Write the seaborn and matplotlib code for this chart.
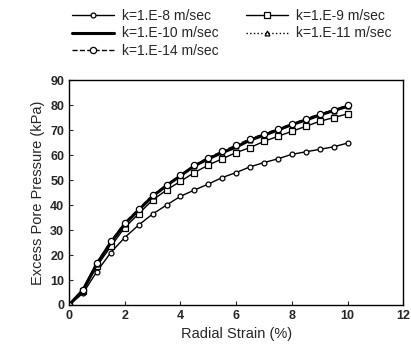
import matplotlib
matplotlib.use("Agg")
import matplotlib.pyplot as plt
import seaborn as sns
import pandas as pd

# Radial strain (%) and excess pore pressure (kPa)
strain = [0, 0.5, 1, 1.5, 2, 2.5, 3, 3.5, 4, 4.5, 5,
          5.5, 6, 6.5, 7, 7.5, 8, 8.5, 9, 9.5, 10]
k8 = [0, 4.7, 13.4, 21, 27, 32, 36.4, 40, 43.5, 46, 48.4,
      51, 53, 55.3, 57, 58.5, 60.3, 61.3, 62.3, 63.3, 64.8]
k9 = [0, 5.5, 15.5, 23.5, 31, 36.5, 42, 46, 49.5, 53, 56,
      58.5, 61, 63, 65.5, 67.5, 69.5, 71.5, 73.5, 75, 76.5]
k10 = [0, 6, 16.5, 25, 32.4, 38, 43.5, 47.8, 51.7, 55.7, 58.5,
       61, 63.2, 66, 68, 70, 72.2, 74, 76, 77.8, 79.5]
k11 = [0, 6, 16.5, 25.5, 32.5, 38.5, 43.5, 48, 52, 55.5, 58.5,
       61, 63.5, 66, 68, 70, 72, 74, 76, 77.5, 79.5]
k14 = [0, 6.2, 17, 25.5, 33, 38.5, 44, 48, 52, 56, 59,
       61.5, 64, 66.5, 68.5, 70.5, 72.5, 74.5, 76.5, 78, 80]

labels = ["k=1.E-8 m/sec", "k=1.E-9 m/sec", "k=1.E-10 m/sec",
          "k=1.E-11 m/sec", "k=1.E-14 m/sec"]
series = [k8, k9, k10, k11, k14]

# line style per series: (marker, markersize, linestyle, linewidth)
styles = [("o", 3.5, "-", 1.0),
          ("s", 4.5, "-", 1.0),
          (None, 0, "-", 2.2),
          ("^", 3.5, ":", 1.0),
          ("o", 4.5, "--", 1.0)]

sns.set_style("ticks")
plt.rcParams["font.family"] = ["Liberation Sans", "DejaVu Sans"]

fig = plt.figure(figsize=(4.11, 3.53), dpi=100)
ax = fig.add_axes([0.168, 0.136, 0.813, 0.637])

for lab, vals, (mk, ms, ls, lw) in zip(labels, series, styles):
    df = pd.DataFrame({"strain": strain, "pressure": vals})
    sns.lineplot(data=df, x="strain", y="pressure", ax=ax, color="black",
                 marker=mk, markersize=ms, markerfacecolor="white",
                 markeredgecolor="black", markeredgewidth=0.9,
                 linestyle=ls, linewidth=lw, label=lab)

ax.set_xlim(0, 12)
ax.set_ylim(0, 90)
ax.set_xticks(range(0, 13, 2))
ax.set_yticks(range(0, 91, 10))
ax.tick_params(direction="in", length=3, labelsize=9, width=0.8)
for t in ax.get_xticklabels() + ax.get_yticklabels():
    t.set_fontweight("bold")
for s in ax.spines.values():
    s.set_visible(True)
    s.set_linewidth(1.0)
    s.set_color("black")
ax.set_xlabel("Radial Strain (%)", fontsize=10.5)
ax.set_ylabel("Excess Pore Pressure (kPa)", fontsize=10.5)

handles, labs = ax.get_legend_handles_labels()
ax.get_legend().remove()
# matplotlib fills legend columns first; reorder so entries read row by row
order = [0, 2, 4, 1, 3]
fig.legend([handles[i] for i in order], [labs[i] for i in order],
           ncol=2, loc="upper left",
           bbox_to_anchor=(0.145, 1.01), frameon=False, fontsize=10,
           handlelength=3, columnspacing=2.0, labelspacing=0.25,
           handletextpad=0.6)

fig.savefig("out.png", dpi=100)
